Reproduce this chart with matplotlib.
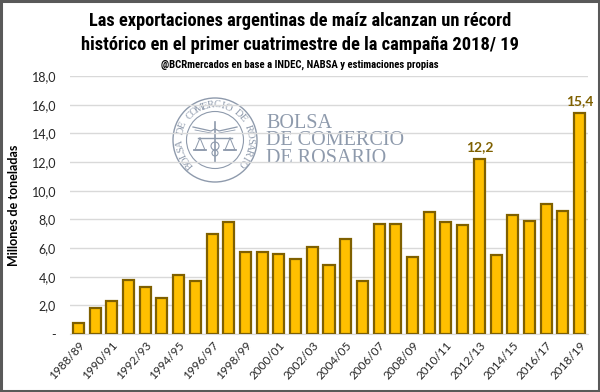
import numpy as np
import matplotlib
matplotlib.use("Agg")
import matplotlib.pyplot as plt
from matplotlib.patches import Rectangle, Circle
from matplotlib import font_manager

campaigns = ["1988/89", "1989/90", "1990/91", "1991/92", "1992/93", "1993/94", "1994/95",
             "1995/96", "1996/97", "1997/98", "1998/99", "1999/00", "2000/01", "2001/02",
             "2002/03", "2003/04", "2004/05", "2005/06", "2006/07", "2007/08", "2008/09",
             "2009/10", "2010/11", "2011/12", "2012/13", "2013/14", "2014/15", "2015/16",
             "2016/17", "2017/18", "2018/19"]
exports = [0.8, 1.8, 2.3, 3.8, 3.3, 2.5, 4.1, 3.7, 7.0, 7.8, 5.7, 5.7, 5.6, 5.2,
           6.1, 4.8, 6.6, 3.7, 7.7, 7.7, 5.4, 8.5, 7.8, 7.6, 12.2, 5.5, 8.3, 7.9,
           9.1, 8.6, 15.4]
labelled = {"2012/13": "12,2", "2018/19": "15,4"}
yticks = [0, 2, 4, 6, 8, 10, 12, 14, 16, 18]
ytick_labels = ["-", "2,0", "4,0", "6,0", "8,0", "10,0", "12,0", "14,0", "16,0", "18,0"]

title_lines = ["Las exportaciones argentinas de maíz alcanzan un récord",
               "histórico en el primer cuatrimestre de la campaña 2018/ 19"]
subtitle = "@BCRmercados en base a INDEC, NABSA y estimaciones propias"
ylabel = "Millones de toneladas"

W, H = 600, 392
fig = plt.figure(figsize=(W / 100, H / 100), dpi=100)
fig.patch.set_facecolor("white")
renderer = fig.canvas.get_renderer()

installed = {f.name for f in font_manager.fontManager.ttflist}
cands = ["Liberation Sans Narrow", "DejaVu Sans Condensed", "Roboto Condensed",
         "Open Sans Condensed", "Roboto", "Lato"]
narrow_name = next((c for c in cands if c in installed), "DejaVu Sans")
narrow = [narrow_name, "DejaVu Sans"]
body = ["Lato", "DejaVu Sans"]


def fit_text(t, target_w):
    w = t.get_window_extent(renderer).width
    t.set_fontsize(t.get_fontsize() * target_w / w)


L, R, T, B = 70, 588, 76, 334
ax = fig.add_axes([L / W, 1 - B / H, (R - L) / W, (B - T) / H])

ov = fig.add_axes([0, 0, 1, 1], zorder=0)
ov.set_xlim(0, W)
ov.set_ylim(0, H)
ov.axis("off")
ax.set_zorder(1)
ax.patch.set_alpha(0)

x = np.arange(len(campaigns))
ax.bar(x, exports, width=0.66, color="#FFC000", edgecolor="#7F6000", linewidth=1.6, zorder=3)
for i, c in enumerate(campaigns):
    if c in labelled:
        ax.annotate(labelled[c], (x[i], exports[i]), xytext=(0, 4.5), textcoords="offset points",
                    ha="center", va="bottom", fontsize=10, fontweight="bold",
                    family=body, color="#7F6000")

ax.set_xlim(-0.5, len(campaigns) - 0.5)
ax.set_ylim(0, 18)
ax.set_yticks(yticks)
ax.set_yticklabels(ytick_labels, fontsize=9, color="#262626", family=body)
ax.yaxis.grid(True, color="#D9D9D9", linewidth=1, zorder=0)
ax.set_axisbelow(True)
for s in ["top", "right", "left"]:
    ax.spines[s].set_visible(False)
ax.spines["bottom"].set_color("#D9D9D9")
ax.tick_params(axis="y", length=0, pad=10)
ax.tick_params(axis="x", length=0, pad=4)
ax.set_xticks(x[::2])
ax.set_xticklabels(campaigns[::2], rotation=48, ha="right", rotation_mode="anchor",
                   fontsize=8.5, color="#262626", family=body)
ax.set_ylabel(ylabel, fontsize=9, fontweight="bold", color="black", family=body)
ax.yaxis.set_label_coords((20 - L) / (R - L), 0.5)

t1 = fig.text(0.5, 1 - 21 / H, title_lines[0], ha="center", va="center", fontsize=14,
              fontweight="bold", family=narrow, color="black")
t2 = fig.text(0.5, 1 - 44.5 / H, title_lines[1], ha="center", va="center", fontsize=14,
              fontweight="bold", family=narrow, color="black")
t3 = fig.text(0.5, 1 - 65 / H, subtitle, ha="center", va="center", fontsize=8,
              fontweight="bold", family=narrow, color="black")
fit_text(t1, 424)
fit_text(t2, 440)
fit_text(t3, 281)

# watermark logo
lc = "#8E9AAC"
cx, cy = 215, H - 140
ov.add_patch(Circle((cx, cy), 42, fill=False, edgecolor=lc, linewidth=1.0))
ov.add_patch(Circle((cx, cy), 28.5, fill=False, edgecolor=lc, linewidth=0.8))
ring = "BOLSA DE COMERCIO DE ROSARIO"
angs = np.linspace(224, -40, len(ring))
for ch, a in zip(ring, angs):
    r = np.deg2rad(a)
    ov.text(cx + 35 * np.cos(r), cy + 35 * np.sin(r), ch, rotation=a - 90,
            ha="center", va="center", fontsize=7.5, family="Liberation Serif", color=lc,
            rotation_mode="anchor")
ov.plot([cx, cx], [cy - 22, cy + 18], color=lc, lw=1.2)
ov.plot([cx - 17, cx + 17], [cy + 2, cy + 2], color=lc, lw=1.0)
ov.plot([cx - 22, cx - 4, cx], [cy + 13, cy + 9, cy + 11], color=lc, lw=0.9)
ov.plot([cx + 22, cx + 4, cx], [cy + 13, cy + 9, cy + 11], color=lc, lw=0.9)
ov.plot([cx - 20, cx - 4], [cy + 10, cy + 7], color=lc, lw=0.6)
ov.plot([cx + 20, cx + 4], [cy + 10, cy + 7], color=lc, lw=0.6)
for sx in (-15, 15):
    ov.plot([cx + sx, cx + sx - 5, cx + sx + 5, cx + sx], [cy + 2, cy - 10, cy - 10, cy + 2],
            color=lc, lw=0.7)
    ov.plot([cx + sx - 6, cx + sx + 6], [cy - 10, cy - 10], color=lc, lw=1.3)
ov.add_patch(Circle((cx, cy - 6), 4, fill=False, edgecolor=lc, lw=0.8))
ov.add_patch(Circle((cx, cy - 13), 3, fill=False, edgecolor=lc, lw=0.8))
ov.text(266, H - 114, "BOLSA\nDE COMERCIO\nDE ROSARIO", ha="left", va="top",
        fontsize=14.5, linespacing=0.88, family="Liberation Serif", color=lc)

fig.add_artist(Rectangle((0.001, 0.002), 0.997, 0.996, transform=fig.transFigure,
                         fill=False, edgecolor="#595959", linewidth=2.2))

fig.savefig("out.png", dpi=100)
